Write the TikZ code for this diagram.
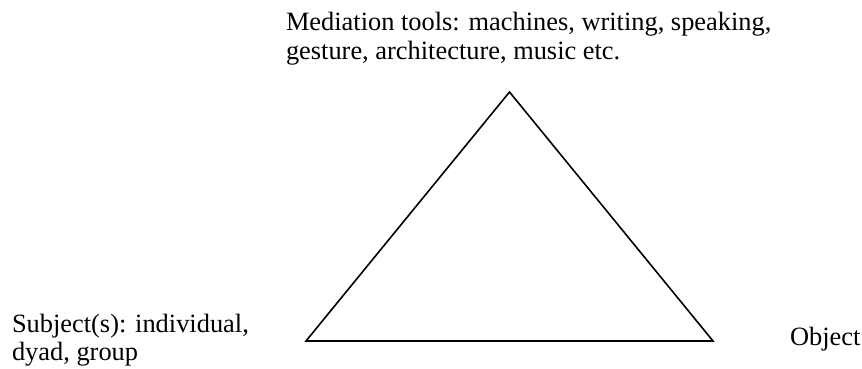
\documentclass[tikz,border=0pt]{standalone}
\usepackage{fontspec}
\setmainfont{Liberation Serif}
\begin{document}
\begin{tikzpicture}[x=0.5pt, y=-0.5pt, line width=0.8pt,
    every node/.style={inner sep=0pt, outer sep=0pt, font=\fontsize{13.2}{14.3}\selectfont, align=left}]
    \useasboundingbox (0,0) rectangle (862,369);
    % Corners of the triangle
    \coordinate (tools) at (509.5,92);
    \coordinate (subject) at (306,341);
    \coordinate (object) at (713,341);
    \draw (tools)--(object)--(subject)--cycle;
    % Labels
    \node[anchor=north west] (toolstext) at (286,12.5) {Mediation tools: machines, writing, speaking,\\gesture, architecture, music etc.};
    \node[anchor=north west] (subjecttext) at (12,314) {Subject(s): individual,\\dyad, group};
    \node[anchor=base west] (objecttext) at (790,345) {Object};
\end{tikzpicture}
\end{document}
